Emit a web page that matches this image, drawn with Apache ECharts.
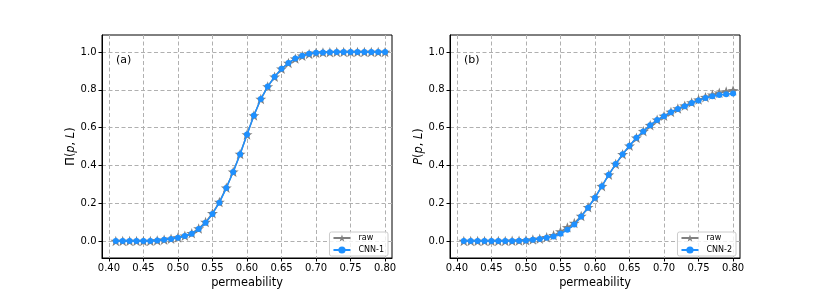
<!DOCTYPE html>
<html>
<head>
<meta charset="utf-8">
<script src="https://cdn.jsdelivr.net/npm/echarts@6/dist/echarts.min.js"></script>
<style>html,body{margin:0;padding:0;background:#fff}#c{width:822px;height:294px}</style>
</head>
<body>
<div id="c"></div>
<script>
const permeability = [0.41,0.42,0.43,0.44,0.45,0.46,0.47,0.48,0.49,0.50,0.51,0.52,0.53,0.54,0.55,0.56,0.57,0.58,0.59,0.60,0.61,0.62,0.63,0.64,0.65,0.66,0.67,0.68,0.69,0.70,0.71,0.72,0.73,0.74,0.75,0.76,0.77,0.78,0.79,0.80];
const rawA = [0,0,0,0,0,0,0.003,0.007,0.012,0.019,0.028,0.041,0.066,0.1,0.147,0.206,0.282,0.366,0.46,0.563,0.664,0.751,0.817,0.869,0.911,0.942,0.965,0.98,0.99,0.996,0.998,0.999,1,1,1,1,1,1,1,1];
const cnn1 = [0,0,0,0,0,0,0.003,0.006,0.011,0.017,0.026,0.038,0.063,0.096,0.143,0.203,0.28,0.365,0.459,0.563,0.664,0.751,0.817,0.869,0.911,0.942,0.965,0.98,0.991,0.996,0.998,0.999,1,1,1,1,1,1,1,1];
const rawB = [0,0,0,0,0,0,0,0.001,0.002,0.004,0.008,0.012,0.02,0.03,0.05,0.072,0.095,0.132,0.178,0.23,0.29,0.351,0.407,0.459,0.504,0.546,0.581,0.613,0.641,0.662,0.683,0.701,0.716,0.733,0.748,0.761,0.774,0.784,0.791,0.797];
const cnn2 = [0,0,0,0,0,0,0,0,0.001,0.003,0.007,0.01,0.017,0.024,0.038,0.059,0.087,0.129,0.176,0.229,0.29,0.351,0.407,0.459,0.504,0.546,0.58,0.612,0.64,0.66,0.681,0.699,0.713,0.73,0.744,0.756,0.766,0.773,0.777,0.781];
const xTicks = [0.40,0.45,0.50,0.55,0.60,0.65,0.70,0.75,0.80];
const yTicks = [0.0,0.2,0.4,0.6,0.8,1.0];
const panelLabels = ['(a)','(b)'];
const legendNames = [['raw','CNN-1'],['raw','CNN-2']];

const FONT = 'DejaVu Sans';
const STAR = 'path://M0,-10 L2.35,-3.24 L9.51,-3.09 L3.8,1.24 L5.88,8.09 L0,4 L-5.88,8.09 L-3.8,1.24 L-9.51,-3.09 L-2.35,-3.24 Z';
const pairs = a => permeability.map((p,i)=>[p,a[i]]);

const grids = [
  {left:102, right:430, top:35, height:226},
  {left:450, right:82, top:35, height:226}
].map(g=>Object.assign({show:true, borderColor:'#000', borderWidth:1, backgroundColor:'transparent'}, g));

const gridLine = {show:true, lineStyle:{color:'#b0b0b0', type:[4,2.5], width:1}};

function xAx(i){
  return {type:'value', gridIndex:i, min:0.39, max:0.81,
    name:'permeability', nameLocation:'middle', nameGap:20,
    nameTextStyle:{fontFamily:FONT, fontSize:11.4, color:'#000'},
    axisLine:{show:true, onZero:false, lineStyle:{color:'#000', width:1}},
    axisTick:{show:true, length:3.5, customValues:xTicks, lineStyle:{color:'#000'}},
    axisLabel:{customValues:xTicks, fontFamily:FONT, fontSize:10, color:'#000', margin:5,
      formatter:v=>v.toFixed(2)},
    splitLine:gridLine};
}
function yAx(i, nameRich){
  return {type:'value', gridIndex:i, min:-0.09, max:1.09,
    name:nameRich, nameLocation:'middle', nameGap:25, nameRotate:90,
    nameTextStyle:{fontFamily:FONT, fontSize:11.4, color:'#000',
      rich:{i:{fontStyle:'italic', fontFamily:FONT, fontSize:11.4, color:'#000'}}},
    axisLine:{show:true, onZero:false, lineStyle:{color:'#000', width:1}},
    axisTick:{show:true, length:3.5, customValues:yTicks, lineStyle:{color:'#000'}},
    axisLabel:{customValues:yTicks, fontFamily:FONT, fontSize:10, color:'#000', margin:5.5,
      formatter:v=>v.toFixed(1)},
    splitLine:gridLine};
}

function rawSeries(i, data, name){
  return {type:'line', name:name, xAxisIndex:i, yAxisIndex:i, data:pairs(data),
    symbol:STAR, symbolSize:11, symbolKeepAspect:true, showAllSymbol:true,
    itemStyle:{color:'#808080'}, lineStyle:{color:'#808080', width:1.5}, z:2, animation:false};
}
function cnnSeries(i, data, name){
  return {type:'line', name:name, xAxisIndex:i, yAxisIndex:i, data:pairs(data),
    symbol:'circle', symbolSize:6, showAllSymbol:true,
    itemStyle:{color:'#1e90ff'}, lineStyle:{color:'#1e90ff', width:1.5}, z:3, animation:false};
}

const legendCommon = {orient:'vertical', itemWidth:17, itemHeight:9, itemGap:4,
  backgroundColor:'rgba(255,255,255,0.8)', borderColor:'#ccc', borderWidth:1, borderRadius:2,
  padding:[2,4,2,3], textStyle:{fontFamily:FONT, fontSize:8, color:'#000', padding:[0,0,0,3]}};

const option = {
  animation:false,
  grid:grids,
  xAxis:[xAx(0), xAx(1)],
  yAxis:[yAx(0,'Π({i|p}, {i|L})'), yAx(1,'{i|P}({i|p}, {i|L})')],
  legend:[
    Object.assign({data:legendNames[0], right:434, top:232}, legendCommon),
    Object.assign({data:legendNames[1], right:86, top:232}, legendCommon)
  ],
  graphic:[
    {type:'text', left:116, top:55, style:{text:panelLabels[0], fontFamily:FONT, fontSize:11, fill:'#000'}},
    {type:'text', left:464, top:55, style:{text:panelLabels[1], fontFamily:FONT, fontSize:11, fill:'#000'}}
  ],
  series:[
    rawSeries(0, rawA, legendNames[0][0]),
    cnnSeries(0, cnn1, legendNames[0][1]),
    rawSeries(1, rawB, legendNames[1][0]),
    cnnSeries(1, cnn2, legendNames[1][1])
  ]
};
const chart = echarts.init(document.getElementById('c'), null, {renderer:'canvas'});
chart.setOption(option);
</script>
</body>
</html>
